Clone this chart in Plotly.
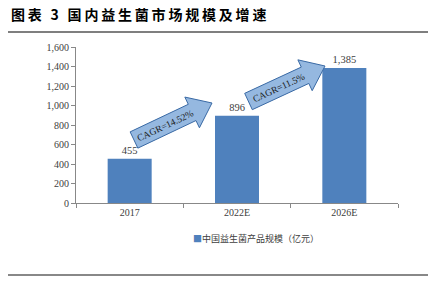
import math
import plotly.graph_objects as go

categories = ["2017", "2022E", "2026E"]
values = [455, 896, 1385]
series_name = "中国益生菌产品规模（亿元）"
cagr_labels = ["CAGR=14.52%", "CAGR=11.5%"]
title_text = "图表 3 国内益生菌市场规模及增速"

W, H = 428, 284
L, R, T, B = 76, 30, 47, 81
PW, PH = W - L - R, H - T - B
SERIF = "Liberation Serif, Times New Roman, serif"
BAR_COLOR = "#4F81BD"

def px2paper(x, y):
    return (x - L) / PW, (H - B - y) / PH

fig = go.Figure()
fig.add_trace(go.Bar(
    x=categories, y=values, name=series_name,
    marker=dict(color=BAR_COLOR, line=dict(width=0)),
    width=0.41,
    texttemplate="%{y:,}", textposition="outside",
    textfont=dict(family=SERIF, size=10.5, color="#404040"),
    cliponaxis=False, showlegend=False,
))

shapes = []
annotations = []

def arrow(tail, tip, bw, hw, hl, label):
    tx, ty = tail
    px, py = tip
    dx, dy = px - tx, py - ty
    ln = math.hypot(dx, dy)
    ux, uy = dx / ln, dy / ln
    nx, ny = -uy, ux
    bx, by = px - ux * hl, py - uy * hl
    pts = [
        (tx + nx * bw, ty + ny * bw),
        (bx + nx * bw, by + ny * bw),
        (bx + nx * hw, by + ny * hw),
        (px, py),
        (bx - nx * hw, by - ny * hw),
        (bx - nx * bw, by - ny * bw),
        (tx - nx * bw, ty - ny * bw),
    ]
    pp = [px2paper(a, b) for a, b in pts]
    path = "M " + " L ".join(f"{a:.4f},{b:.4f}" for a, b in pp) + " Z"
    shapes.append(dict(type="path", xref="paper", yref="paper", path=path,
                       fillcolor="#95B8E0", line=dict(color="#3A6AA5", width=1)))
    cx, cy = (tx + bx) / 2 + 2, (ty + by) / 2
    ang = math.degrees(math.atan2(dy, dx))
    ax, ay = px2paper(cx, cy)
    annotations.append(dict(x=ax, y=ay, xref="paper", yref="paper", text=label,
                            showarrow=False, textangle=ang,
                            xanchor="center", yanchor="middle",
                            font=dict(family=SERIF, size=9.5, color="#1a1a1a")))

arrow((134, 140), (212, 103), 9.0, 17, 22, cagr_labels[0])
arrow((248.5, 101.5), (325, 66), 9.0, 17, 22, cagr_labels[1])

# title (letter-spaced with thin spaces)
spaced_title = "\u2009".join(title_text)
tx, ty = px2paper(9, 14)
annotations.append(dict(x=tx, y=ty, xref="paper", yref="paper",
                        text="<b>" + spaced_title + "</b>", showarrow=False,
                        xanchor="left", yanchor="middle",
                        font=dict(family="Noto Sans CJK SC", size=14, color="#000000")))
# legend-like label
lx, ly = px2paper(256, 238)
annotations.append(dict(x=lx, y=ly, xref="paper", yref="paper",
                        text=f"<span style='color:{BAR_COLOR}'>■</span>" + series_name,
                        showarrow=False, xanchor="center", yanchor="middle",
                        font=dict(family="Noto Sans CJK SC", size=9, color="#404040")))

fig.update_layout(
    width=W, height=H,
    margin=dict(l=L, r=R, t=T, b=B),
    paper_bgcolor="white", plot_bgcolor="white",
    showlegend=False,
    xaxis=dict(showline=True, linecolor="#888888", linewidth=1,
               ticks="outside", tickson="boundaries", ticklen=4, tickcolor="#888888",
               tickfont=dict(family=SERIF, size=10, color="#404040"),
               showgrid=False),
    yaxis=dict(range=[0, 1600], dtick=200, tickformat=",",
               showline=True, linecolor="#888888", linewidth=1,
               ticks="outside", ticklen=4, tickcolor="#888888",
               tickfont=dict(family=SERIF, size=10, color="#404040"),
               showgrid=False, zeroline=False),
    shapes=shapes + [
        dict(type="line", xref="paper", yref="paper",
             x0=(8 - L) / PW, x1=(W - L) / PW, y0=(H - B - 32) / PH, y1=(H - B - 32) / PH,
             line=dict(color="#000000", width=1.2)),
        dict(type="line", xref="paper", yref="paper",
             x0=(8 - L) / PW, x1=(W - L) / PW, y0=(H - B - 275) / PH, y1=(H - B - 275) / PH,
             line=dict(color="#888888", width=2)),
    ],
    annotations=annotations,
)

fig.write_html("out.html")
